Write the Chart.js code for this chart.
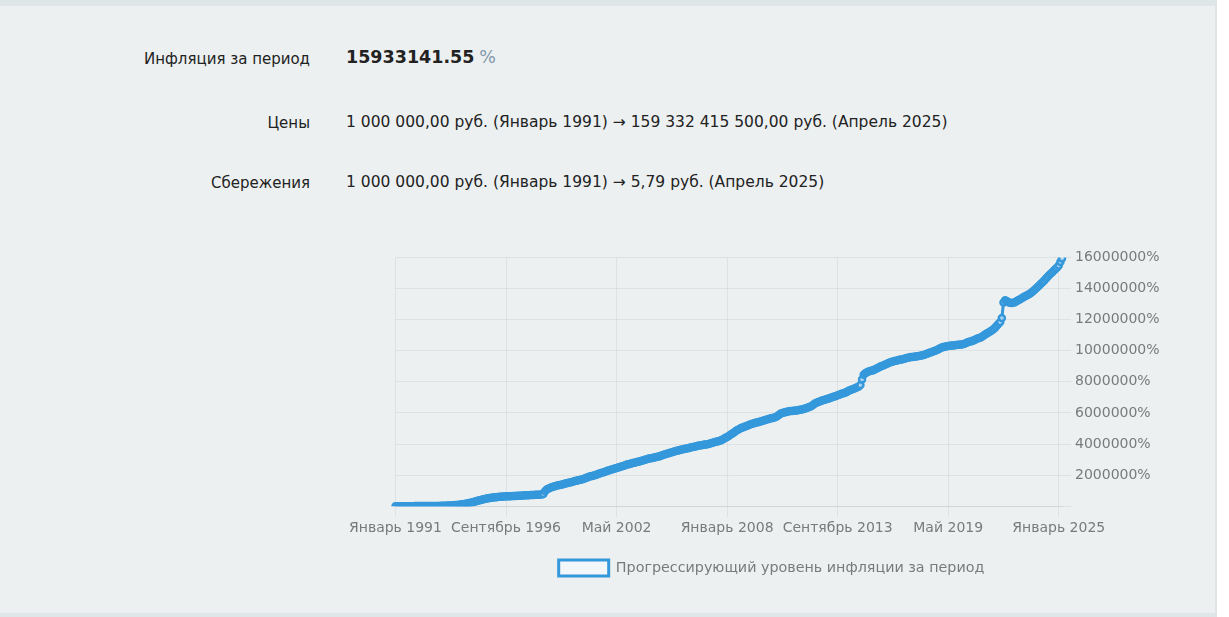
<!DOCTYPE html>
<html lang="ru">
<head>
<meta charset="utf-8">
<title>Инфляция за период</title>
<script src="https://cdn.jsdelivr.net/npm/chart.js@4/dist/chart.umd.min.js"></script>
<style>
  html, body { margin: 0; padding: 0; background: #fff; }
  body { width: 1229px; height: 617px; overflow: hidden; font-family: "DejaVu Sans", Verdana, sans-serif; }
  .panel {
    position: absolute; left: 0; top: 0; width: 1215px; height: 607px;
    background: #ecf0f1;
    border-top: 6px solid #dfe6e8;
    border-right: 2px solid #dfe4e6;
    border-bottom: 4px solid #dfe6e8;
  }
  .row { position: absolute; left: 0; font-size: 15.5px; color: #222; white-space: nowrap; }
  .row .lbl { position: absolute; left: 0; width: 310px; text-align: right; font-size: 15px; top: 1px; }
  .row .val { position: absolute; left: 346px; }
  .big { font-weight: bold; font-size: 17.5px; color: #222; }
  .pct { color: #8297ab; font-size: 17.5px; }
  #wrap { position: absolute; left: 346px; top: 239px; width: 848px; height: 341px; }
</style>
</head>
<body>
<div class="panel">
  <div class="row" style="top:43px"><span class="lbl">Инфляция за период</span><span class="val" style="top:-2px"><span class="big">15933141.55</span> <span class="pct">%</span></span></div>
  <div class="row" style="top:107px"><span class="lbl">Цены</span><span class="val">1 000 000,00 руб. (Январь 1991) → 159 332 415 500,00 руб. (Апрель 2025)</span></div>
  <div class="row" style="top:167px"><span class="lbl">Сбережения</span><span class="val">1 000 000,00 руб. (Январь 1991) → 5,79 руб. (Апрель 2025)</span></div>
  <div id="wrap"><canvas id="inflChart"></canvas></div>
</div>
<script>
// Месяцы и годы для подписей оси X
const monthNames = ['Январь', 'Февраль', 'Март', 'Апрель', 'Май', 'Июнь',
  'Июль', 'Август', 'Сентябрь', 'Октябрь', 'Ноябрь', 'Декабрь'];
const firstYear = 1991;
const lastYear = 2025;
const lastMonth = 3; // последняя точка ряда — март 2025

// Прогрессирующий уровень инфляции, тыс. % (по месяцам)
const inflationK = [
  0, 0, 1, 1, 1, 2, 2, 2, 3, 3, 4, 4,                                       // 1991
  5, 5, 6, 6, 7, 8, 8, 9, 10, 11, 12, 13,                                   // 1992
  15, 16, 18, 20, 23, 26, 30, 34, 39, 44, 50, 55,                           // 1993
  60, 70, 80, 92, 105, 118, 130, 150, 170, 195, 220, 245,                   // 1994
  270, 300, 330, 360, 390, 415, 440, 465, 490, 510, 530, 545,               // 1995
  560, 572, 583, 593, 600, 606, 620, 626, 632, 638, 643, 647,               // 1996
  650, 656, 662, 668, 674, 680, 690, 694, 700, 706, 712, 716,               // 1997
  720, 725, 730, 735, 740, 745, 750, 790, 960, 1080, 1130, 1170,            // 1998
  1220, 1250, 1280, 1310, 1340, 1360, 1380, 1410, 1440, 1470, 1500, 1520,   // 1999
  1540, 1570, 1600, 1630, 1660, 1680, 1700, 1730, 1770, 1810, 1850, 1890,   // 2000
  1920, 1950, 1980, 2010, 2040, 2080, 2120, 2150, 2180, 2220, 2260, 2300,   // 2001
  2330, 2360, 2390, 2420, 2450, 2490, 2520, 2550, 2580, 2620, 2660, 2690,   // 2002
  2720, 2750, 2780, 2800, 2830, 2860, 2880, 2910, 2940, 2970, 3000, 3030,   // 2003
  3060, 3080, 3100, 3130, 3150, 3180, 3200, 3230, 3270, 3310, 3340, 3370,   // 2004
  3400, 3440, 3470, 3500, 3530, 3560, 3580, 3610, 3640, 3670, 3690, 3710,   // 2005
  3730, 3760, 3790, 3810, 3830, 3860, 3880, 3900, 3920, 3940, 3960, 3975,   // 2006
  3990, 4020, 4050, 4080, 4110, 4140, 4160, 4190, 4230, 4280, 4340, 4400,   // 2007
  4450, 4520, 4590, 4660, 4730, 4800, 4880, 4940, 4990, 5040, 5080, 5120,   // 2008
  5150, 5200, 5250, 5290, 5320, 5350, 5380, 5400, 5430, 5460, 5500, 5530,   // 2009
  5560, 5590, 5620, 5650, 5680, 5710, 5740, 5800, 5880, 5960, 6000, 6030,   // 2010
  6050, 6080, 6100, 6120, 6130, 6140, 6150, 6160, 6180, 6200, 6220, 6250,   // 2011
  6280, 6320, 6360, 6400, 6450, 6520, 6600, 6650, 6700, 6740, 6780, 6820,   // 2012
  6850, 6880, 6910, 6950, 6990, 7020, 7050, 7090, 7130, 7170, 7210, 7250,   // 2013
  7280, 7320, 7380, 7440, 7480, 7520, 7550, 7600, 7650, 7700, 7800, 8150,   // 2014
  8450, 8550, 8620, 8660, 8690, 8720, 8750, 8800, 8850, 8900, 8960, 9010,   // 2015
  9050, 9100, 9150, 9200, 9240, 9270, 9300, 9330, 9360, 9390, 9410, 9430,   // 2016
  9450, 9480, 9510, 9540, 9570, 9590, 9600, 9610, 9620, 9640, 9660, 9680,   // 2017
  9700, 9730, 9770, 9810, 9850, 9890, 9920, 9960, 10000, 10050, 10100, 10150, // 2018
  10200, 10230, 10260, 10290, 10310, 10320, 10330, 10340, 10350, 10360, 10375, 10390, // 2019
  10400, 10420, 10450, 10500, 10540, 10570, 10600, 10640, 10680, 10730, 10780, 10820, // 2020
  10850, 10920, 10990, 11060, 11130, 11190, 11250, 11320, 11400, 11500, 11620, 11740, // 2021
  11850, 12100, 13100, 13250, 13200, 13120, 13080, 13060, 13080, 13120, 13180, 13240, // 2022
  13300, 13360, 13420, 13480, 13540, 13600, 13650, 13720, 13800, 13900, 14000, 14100, // 2023
  14200, 14300, 14400, 14500, 14620, 14740, 14850, 14950, 15050, 15150, 15250, 15350, // 2024
  15480, 15700, 15933.14155                                                 // 2025
];

// Подписи оси Y (шаг 2 000 000 %)
const yMax = 16000000;
const yStep = 2000000;
const labelEvery = 68; // подпись раз в 68 месяцев

const labels = [];
for (let y = firstYear; y <= lastYear; y++) {
  const mEnd = (y === lastYear) ? lastMonth : 12;
  for (let m = 0; m < mEnd; m++) {
    labels.push(monthNames[m] + ' ' + y);
  }
}

const values = inflationK.map(v => v * 1000);

const blue = '#3498db';
const tickColor = '#7a7a7a';
const gridColor = 'rgba(0, 0, 0, 0.055)';

Chart.defaults.font.family = '"DejaVu Sans", Verdana, sans-serif';

const ctx = document.getElementById('inflChart').getContext('2d');
const inflChart = new Chart(ctx, {
  type: 'line',
  data: {
    labels: labels,
    datasets: [{
      label: 'Прогрессирующий уровень инфляции за период',
      data: values,
      borderColor: blue,
      backgroundColor: '#f3f7fa',
      borderWidth: 3,
      pointRadius: 3,
      pointBorderWidth: 2.5,
      pointBackgroundColor: 'rgba(243, 247, 250, 0.6)',
      pointBorderColor: blue,
      fill: false,
      tension: 0
    }]
  },
  options: {
    responsive: true,
    maintainAspectRatio: false,
    animation: false,
    layout: { padding: { left: 3, right: 0, top: 2 } },
    scales: {
      x: {
        grid: { color: gridColor, tickLength: 11 },
        border: { color: gridColor },
        ticks: {
          autoSkip: false,
          maxRotation: 0,
          minRotation: 0,
          color: tickColor,
          font: { size: 14 },
          callback: function (val, index) {
            return index % labelEvery === 0 ? this.getLabelForValue(val) : null;
          }
        }
      },
      y: {
        position: 'right',
        min: 0,
        max: yMax,
        grid: { color: gridColor, tickLength: 9 },
        border: { display: false },
        afterFit: scale => { scale.width = 132; },
        ticks: {
          stepSize: yStep,
          padding: 4,
          color: tickColor,
          font: { size: 14 },
          callback: value => value === 0 ? '' : value + '%'
        }
      }
    },
    plugins: {
      legend: {
        position: 'bottom',
        labels: {
          boxWidth: 50,
          boxHeight: 16,
          padding: 20,
          color: tickColor,
          font: { size: 14.3 }
        }
      },
      tooltip: { enabled: false }
    }
  }
});
</script>
</body>
</html>
